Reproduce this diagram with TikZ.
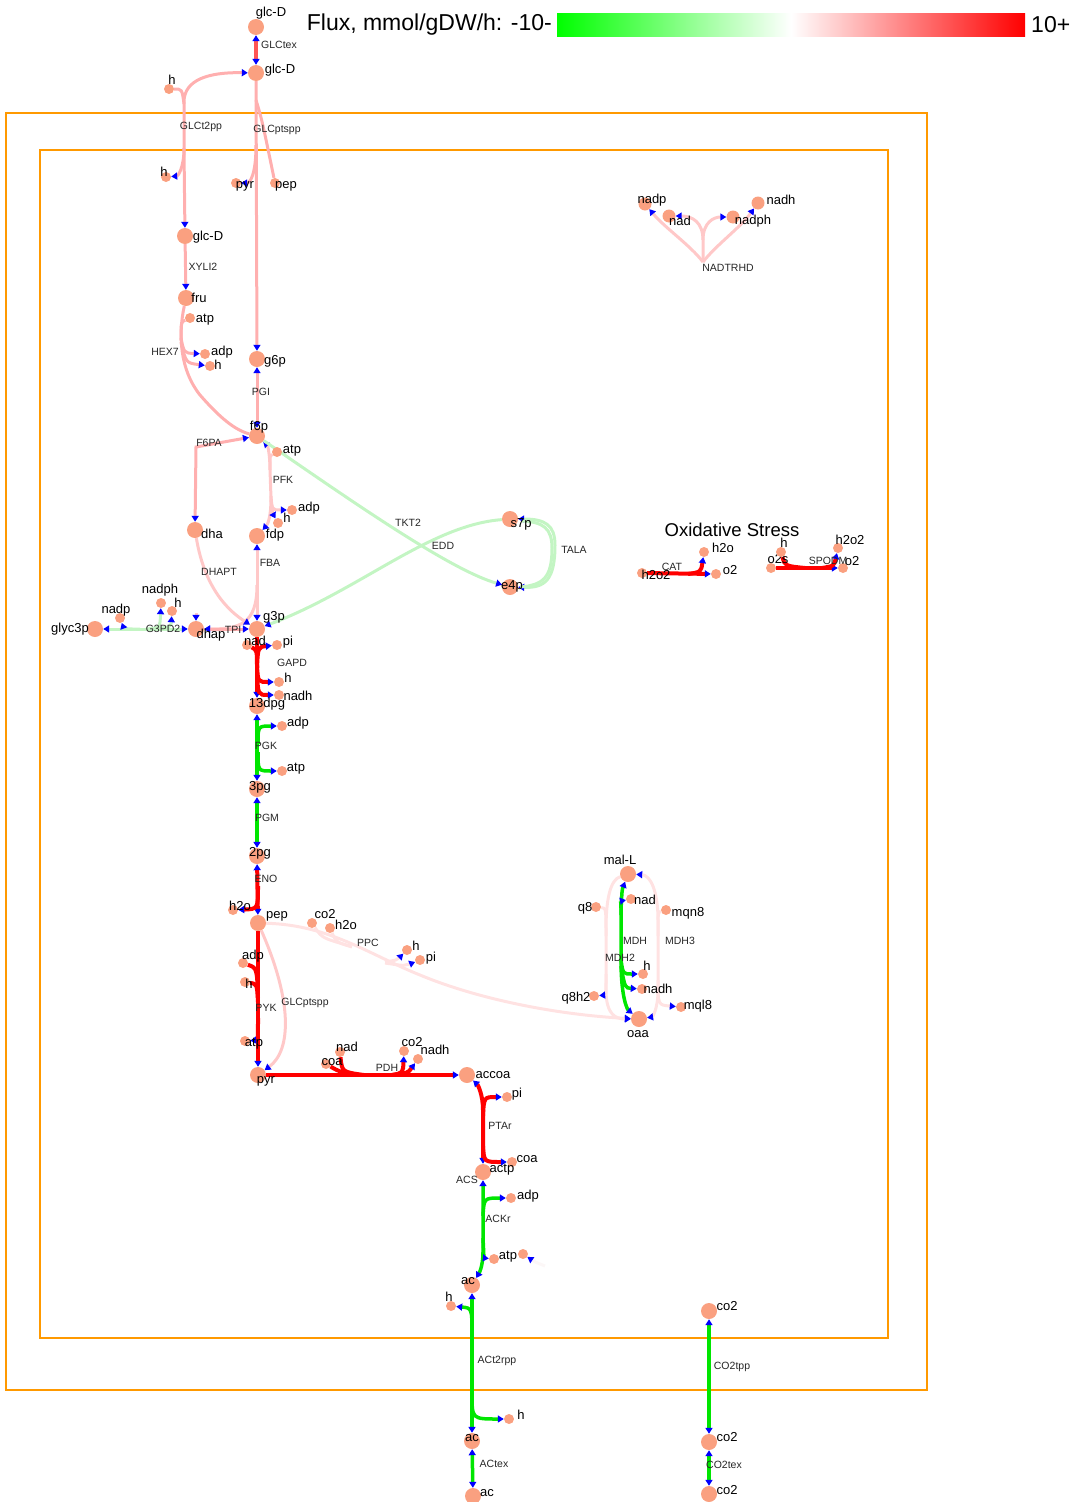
\documentclass[tikz,border=0pt]{standalone}
\usepackage{fontspec}
\setmainfont{Liberation Sans}
\usetikzlibrary{arrows.meta}
\pgfdeclarelayer{bg}
\pgfsetlayers{bg,main}
\definecolor{metc}{RGB}{250,160,128}
\definecolor{pkA}{RGB}{255,175,175}
\definecolor{pkB}{RGB}{255,200,200}
\definecolor{pkC}{RGB}{255,226,226}
\definecolor{rdA}{RGB}{255,0,0}
\definecolor{rdB}{RGB}{255,85,85}
\definecolor{grA}{RGB}{0,230,0}
\definecolor{grB}{RGB}{195,245,195}
\definecolor{orng}{RGB}{255,153,0}
\definecolor{faint}{RGB}{252,247,247}
\definecolor{cbg}{RGB}{0,255,0}
\definecolor{cbr}{RGB}{255,0,0}
\newcommand\MB[5]{\node[#1] (#2) at (#3) {}; \node[ml] (#2-l) at (#4) {#5};}
\newcommand\RL[3]{\node[rl] (#1) at (#2) {#3};}
\begin{document}
\begin{tikzpicture}[x=1pt,y=-1pt,
  mb/.style={circle,fill=metc,inner sep=0,minimum size=16pt},
  mm/.style={circle,fill=metc,inner sep=0,minimum size=13pt},
  ms/.style={circle,fill=metc,inner sep=0,minimum size=10pt},
  ml/.style={inner sep=0,font=\fontsize{13}{13}\selectfont,text height=9pt,text depth=0pt},
  rl/.style={inner sep=0,font=\fontsize{10.5}{10.5}\selectfont,text height=7.5pt,text depth=0pt,text=black!85},
  rx/.style={line width=3pt},
  rr/.style={line width=4pt,rdA},
  rg/.style={line width=3.5pt,grA},
  comp/.style={draw=orng,line width=2pt},
  >={Triangle[length=6pt,width=7pt,color=blue]}]
\useasboundingbox (0,0) rectangle (1086,1502);

% colour bar
\shade[left color=cbg,right color=white] (557,13) rectangle (791,36);
\shade[left color=white,right color=cbr] (791,13) rectangle (1025,36);
\node[anchor=east,inner sep=0,font=\fontsize{23}{23}\selectfont] (fluxt) at (552,25) {Flux, mmol/gDW/h: -10-};
\node[anchor=west,inner sep=0,font=\fontsize{23}{23}\selectfont] (fluxmax) at (1031,25) {10+};

\node[inner sep=0,font=\fontsize{18.5}{18.5}\selectfont] (oxs) at (732,530) {Oxidative Stress};

% metabolites
\MB{mb}{glcDe}{256,27}{271,12}{glc-D}
\MB{mb}{glcDp}{256,73}{280,69}{glc-D}
\MB{ms}{hp1}{169,89}{172,80}{h}
\MB{ms}{hc1}{166,177}{164,172}{h}
\MB{ms}{pyrp}{236,183}{245,184}{pyr}
\MB{ms}{pepp}{275,183}{286,184}{pep}
\MB{mb}{glcDc}{185,236}{208,236}{glc-D}
\MB{mb}{fru}{186,298}{199,298}{fru}
\MB{ms}{atpA}{190,318}{205,318}{atp}
\MB{ms}{adpA}{205,354}{222,351}{adp}
\MB{ms}{hA}{210,366}{218,365}{h}
\MB{mb}{g6p}{257,359}{275,360}{g6p}
\MB{mb}{f6p}{257,436}{259,426}{f6p}
\MB{ms}{atpB}{277,452}{292,449}{atp}
\MB{ms}{adpB}{292,510}{309,507}{adp}
\MB{ms}{hB}{278,523}{287,518}{h}
\MB{mb}{dha}{195,530}{212,534}{dha}
\MB{mb}{fdp}{257,536}{275,534}{fdp}
\MB{mb}{g3p}{257,629}{274,616}{g3p}
\MB{mb}{dhap}{196,629}{211,634}{dhap}
\MB{mb}{glyc3p}{95,629}{70,628}{glyc3p}
\MB{ms}{nadpA}{120,618}{116,609}{nadp}
\MB{ms}{nadphA}{161,603}{160,589}{nadph}
\MB{ms}{hC}{172,611}{178,603}{h}
\MB{ms}{nadA}{247,645}{255,641}{nad}
\MB{ms}{piA}{277,645}{288,641}{pi}
\MB{ms}{hD}{279,682}{288,678}{h}
\MB{ms}{nadhA}{279,695}{298,696}{nadh}
\MB{mb}{dpg}{257,706}{267,703}{13dpg}
\MB{ms}{adpC}{282,726}{298,722}{adp}
\MB{ms}{atpC}{282,771}{296,767}{atp}
\MB{mb}{pgC}{257,789}{260,786}{3pg}
\MB{mb}{pgB}{257,856}{260,852}{2pg}
\MB{ms}{h2oA}{233,910}{240,906}{h2o}
\MB{mb}{pep}{258,923}{277,914}{pep}
\MB{ms}{co2A}{312,923}{325,914}{co2}
\MB{ms}{h2oB}{330,928}{346,925}{h2o}
\MB{ms}{hE}{407,950}{416,946}{h}
\MB{ms}{piB}{420,960}{431,957}{pi}
\MB{ms}{adpD}{243,963}{253,955}{adp}
\MB{ms}{hF}{245,982}{249,984}{h}
\MB{ms}{atpD}{245,1041}{254,1042}{atp}
\MB{mb}{pyr}{258,1075}{266,1079}{pyr}
\MB{ms}{coaA}{326,1064}{332,1061}{coa}
\MB{ms}{nadB}{340,1052}{347,1047}{nad}
\MB{ms}{co2B}{404,1051}{412,1042}{co2}
\MB{ms}{nadhB}{418,1059}{435,1050}{nadh}
\MB{mb}{accoa}{467,1075}{493,1074}{accoa}
\MB{ms}{piC}{507,1097}{517,1093}{pi}
\MB{ms}{coaB}{512,1162}{527,1158}{coa}
\MB{mb}{actp}{483,1172}{502,1168}{actp}
\MB{ms}{adpE}{511,1198}{528,1195}{adp}
\MB{ms}{atpE}{494,1259}{508,1255}{atp}
\node[ms] (atpF) at (523,1254) {};
\MB{mb}{acc}{472,1285}{468,1280}{ac}
\MB{ms}{hG}{451,1306}{449,1297}{h}
\MB{ms}{hH}{509,1419}{521,1415}{h}
\MB{mb}{acp}{472,1441}{472,1437}{ac}
\MB{mb}{ace}{473,1496}{487,1492}{ac}
\MB{mb}{co2c}{709,1311}{727,1306}{co2}
\MB{mb}{co2p}{709,1442}{727,1437}{co2}
\MB{mb}{co2e}{709,1494}{727,1490}{co2}
\MB{mb}{s7p}{510,519}{521,523}{s7p}
\MB{mb}{e4p}{510,587}{512,585}{e4p}
\MB{mm}{nadpB}{645,204}{652,199}{nadp}
\MB{mm}{nadC}{669,216}{680,221}{nad}
\MB{mm}{nadphB}{733,217}{753,220}{nadph}
\MB{mm}{nadhC}{758,203}{781,200}{nadh}
\MB{ms}{h2o2A}{642,573}{656,575}{h2o2}
\MB{ms}{h2oC}{704,552}{723,548}{h2o}
\MB{ms}{o2A}{716,574}{730,570}{o2}
\MB{ms}{o2s}{771,568}{778,559}{o2s}
\MB{ms}{hI}{781,552}{784,543}{h}
\MB{ms}{h2o2B}{838,548}{850,540}{h2o2}
\MB{ms}{o2B}{843,568}{852,561}{o2}
\MB{mb}{malL}{628,874}{620,860}{mal-L}
\MB{ms}{nadD}{631,899}{645,900}{nad}
\MB{ms}{q8}{596,907}{585,907}{q8}
\MB{ms}{mqn8}{666,910}{688,912}{mqn8}
\MB{ms}{hJ}{643,974}{647,966}{h}
\MB{ms}{nadhD}{642,989}{658,989}{nadh}
\MB{ms}{q8h2}{594,996}{576,997}{q8h2}
\MB{ms}{mql8}{681,1007}{698,1005}{mql8}
\MB{mb}{oaa}{639,1019}{638,1033}{oaa}

% reaction labels
\RL{rGLCtex}{279,45}{GLCtex}
\RL{rGLCt2pp}{201,126}{GLCt2pp}
\RL{rGLCptsppA}{277,129}{GLCptspp}
\RL{rXYLI2}{203,267}{XYLI2}
\RL{rHEX7}{165,352}{HEX7}
\RL{rPGI}{261,392}{PGI}
\RL{rF6PA}{209,443}{F6PA}
\RL{rPFK}{283,480}{PFK}
\RL{rDHAPT}{219,572}{DHAPT}
\RL{rFBA}{270,563}{FBA}
\RL{rTPI}{233,630}{TPI}
\RL{rG3PD2}{163,629}{G3PD2}
\RL{rGAPD}{292,663}{GAPD}
\RL{rPGK}{266,746}{PGK}
\RL{rPGM}{267,818}{PGM}
\RL{rENO}{266,879}{ENO}
\RL{rPPC}{368,943}{PPC}
\RL{rPYK}{266,1008}{PYK}
\RL{rGLCptsppB}{305,1002}{GLCptspp}
\RL{rPDH}{387,1068}{PDH}
\RL{rPTAr}{500,1126}{PTAr}
\RL{rACS}{467,1180}{ACS}
\RL{rACKr}{498,1219}{ACKr}
\RL{rACt2rpp}{497,1360}{ACt2rpp}
\RL{rACtex}{494,1464}{ACtex}
\RL{rCO2tpp}{732,1366}{CO2tpp}
\RL{rCO2tex}{724,1465}{CO2tex}
\RL{rTKT2}{408,523}{TKT2}
\RL{rEDD}{443,546}{EDD}
\RL{rTALA}{574,550}{TALA}
\RL{rNADTRHD}{728,268}{NADTRHD}
\RL{rCAT}{672,567}{CAT}
\RL{rSPODM}{828,561}{SPODM}
\RL{rMDH}{635,941}{MDH}
\RL{rMDH2}{620,958}{MDH2}
\RL{rMDH3}{680,941}{MDH3}

\begin{pgfonlayer}{bg}
% compartments
\draw[comp] (6,113) rectangle (927,1390);
\draw[comp] (40,150) rectangle (888,1338);

% GLCtex
\draw[line width=3.5pt,rdB,<->] (glcDe) -- (glcDp);
% GLCt2pp
\draw[rx,pkA,<->] (glcDp) .. controls (208,72) and (184,80) .. (184,102) -- (184,150) -- (glcDc);
\draw[rx,pkA] (hp1) .. controls (182,89) .. (184,104);
\draw[rx,pkA,->] (184,148) .. controls (184,168) and (178,176) .. (hc1);
% GLCptspp (periplasm)
\draw[rx,pkA,->] (glcDp) -- (g6p);
\draw[rx,pkA] (256,100) .. controls (262,120) .. (pepp);
\draw[rx,pkA,->] (256,145) .. controls (256,175) and (250,183) .. (pyrp);
% XYLI2
\draw[rx,pkA,->] (glcDc) -- (fru);
% HEX7
\draw[rx,pkA] (fru) .. controls (178,335) and (180,370) .. (200,395) .. controls (220,418) and (235,430) .. (f6p);
\draw[rx,pkA] (181,340) .. controls (181,322) .. (atpA);
\draw[rx,pkA,->] (181,338) .. controls (184,353) .. (adpA);
\draw[rx,pkA,->] (181,342) .. controls (186,363) .. (hA);
% PGI
\draw[rx,pkA,<->] (g6p) -- (f6p);
% F6PA
\draw[rx,pkA,<->] (dha) -- (196,447) -- (f6p);
% PFK
\draw[rx,pkB,<->] (f6p) .. controls (268,446) and (270,456) .. (270,470) -- (271,498) .. controls (271,516) and (268,524) .. (fdp);
\draw[rx,pkB] (270,470) .. controls (270,455) .. (atpB);
\draw[rx,pkB,->] (271,496) .. controls (272,510) .. (adpB);
\draw[rx,pkB,->] (271,500) .. controls (273,514) .. (hB);
% FBA
\draw[rx,pkB,<->] (fdp) -- (g3p);
\draw[rx,pkB,->] (257,585) .. controls (257,624) and (240,629) .. (dhap);
% DHAPT
\draw[rx,pkB,->] (dha) .. controls (205,590) and (230,612) .. (g3p);
\draw[rx,pkB,->] (196,613) -- (dhap);
% TPI
\draw[rx,pkA,<->] (dhap) -- (g3p);
% G3PD2
\draw[rx,grB,<->] (glyc3p) -- (dhap);
\draw[rx,grB,->] (140,629) .. controls (124,629) .. (nadpA);
\draw[rx,grB,->] (146,629) .. controls (160,628) .. (nadphA);
\draw[rx,grB,->] (152,629) .. controls (171,627) .. (hC);
% GAPD
\draw[rr,->] (g3p) -- (dpg);
\draw[rr] (257,668) .. controls (257,650) .. (nadA);
\draw[rr,->] (257,668) .. controls (258,647) .. (piA);
\draw[rr,->] (257,666) .. controls (258,682) .. (hD);
\draw[rr,->] (257,672) .. controls (258,695) .. (nadhA);
% PGK
\draw[rg,<->] (dpg) -- (pgC);
\draw[rg,->] (258,744) .. controls (258,726) .. (adpC);
\draw[rg,->] (258,752) .. controls (258,771) .. (atpC);
% PGM
\draw[rg,<->] (pgC) -- (pgB);
% ENO
\draw[rr,<->] (pgB) -- (pep);
\draw[rr,->] (258,886) .. controls (258,909) .. (h2oA);
% PYK
\draw[rr,->] (pep) -- (pyr);
\draw[rr] (adpD) .. controls (257,968) .. (258,998);
\draw[rr] (hF) .. controls (257,984) .. (258,1002);
\draw[rr,->] (258,1018) .. controls (258,1040) .. (atpD);
% GLCptspp (cytosol)
\draw[rx,pkB,->] (pep) .. controls (292,1000) and (292,1050) .. (pyr);
% PPC
\draw[rx,pkC,->] (pep) .. controls (330,925) and (370,955) .. (420,975) .. controls (480,1000) and (560,1015) .. (oaa);
\draw[rx,pkC] (co2A) .. controls (322,938) .. (350,946);
\draw[rx,pkC] (h2oB) .. controls (336,942) .. (352,947);
\draw[rx,pkC,->] (385,962) .. controls (397,960) .. (hE);
\draw[rx,pkC,->] (385,963) .. controls (405,966) .. (piB);
% PDH
\draw[rr,->] (pyr) -- (accoa);
\draw[rr] (coaA) .. controls (340,1072) .. (356,1075);
\draw[rr] (nadB) .. controls (342,1072) .. (364,1075);
\draw[rr,->] (392,1075) .. controls (403,1073) .. (co2B);
\draw[rr,->] (392,1075) .. controls (408,1073) .. (nadhB);
% PTAr
\draw[rr,<->] (accoa) .. controls (478,1085) and (483,1095) .. (483,1110) -- (actp);
\draw[rr,->] (483,1116) .. controls (484,1097) .. (piC);
\draw[rr,->] (483,1146) .. controls (484,1162) .. (coaB);
% ACKr
\draw[rg,<->] (actp) -- (483,1252) .. controls (483,1268) and (478,1275) .. (acc);
\draw[rg,->] (483,1216) .. controls (484,1198) .. (adpE);
\draw[rg,->] (483,1238) .. controls (484,1258) .. (atpE);
% ACS (faint)
\draw[rx,faint,->] (545,1266) .. controls (535,1262) .. (atpF);
% ACt2rpp
\draw[rg,<->] (acc) -- (acp);
\draw[rg,->] (472,1336) .. controls (472,1308) .. (hG);
\draw[rg,->] (472,1394) .. controls (472,1419) .. (hH);
% ACtex
\draw[rg,<->] (acp) -- (ace);
% CO2tpp, CO2tex
\draw[rg,<->] (co2c) -- (co2p);
\draw[rg,<->] (co2p) -- (co2e);
% TKT2 / EDD / TALA
\draw[rx,grB,->] (f6p) .. controls (350,500) and (450,570) .. (e4p);
\draw[rx,grB,->] (s7p) .. controls (430,525) and (360,590) .. (g3p);
\draw[rx,grB,<->] (s7p) .. controls (545,519) and (555,525) .. (555,545) .. controls (555,580) and (545,588) .. (e4p);
\draw[rx,grB] (522,521) .. controls (543,522) and (552,528) .. (552,548) .. controls (552,578) and (543,585) .. (520,587);
% NADTRHD
\draw[rx,pkB,->] (703,262) .. controls (690,245) and (665,228) .. (nadpB);
\draw[rx,pkB,->] (703,262) .. controls (716,245) and (740,228) .. (nadhC);
\draw[rx,pkB,->] (703,262) -- (703,240) .. controls (703,222) and (692,216) .. (nadC);
\draw[rx,pkB,->] (703,240) .. controls (703,222) and (714,217) .. (nadphB);
% CAT
\draw[rr,->] (h2o2A) -- (o2A);
\draw[rr,->] (688,574) .. controls (701,572) .. (h2oC);
% SPODM
\draw[rr,->] (o2s) -- (o2B);
\draw[rr] (hI) .. controls (785,566) .. (805,568);
\draw[rr,->] (822,568) .. controls (834,566) .. (h2o2B);
% MDH
\draw[rg,<->] (malL) .. controls (622,890) .. (621,910) -- (621,960) .. controls (621,1000) and (628,1010) .. (oaa);
\draw[rg,->] (621,915) .. controls (621,901) .. (nadD);
\draw[rg,->] (621,960) .. controls (623,974) .. (hJ);
\draw[rg,->] (621,966) .. controls (625,988) .. (nadhD);
% MDH2
\draw[rx,pkC,->] (malL) .. controls (610,880) and (606,900) .. (606,930) -- (606,990) .. controls (606,1015) and (616,1019) .. (oaa);
\draw[rx,pkC] (q8) .. controls (606,908) .. (606,936);
\draw[rx,pkC,->] (606,974) .. controls (606,995) .. (q8h2);
% MDH3
\draw[rx,pkC,<->] (malL) .. controls (650,875) and (658,890) .. (658,920) -- (658,990) .. controls (658,1010) and (652,1017) .. (oaa);
\draw[rx,pkC] (mqn8) .. controls (658,912) .. (658,936);
\draw[rx,pkC,->] (658,980) .. controls (658,1005) .. (mql8);
\end{pgfonlayer}
\end{tikzpicture}
\end{document}
